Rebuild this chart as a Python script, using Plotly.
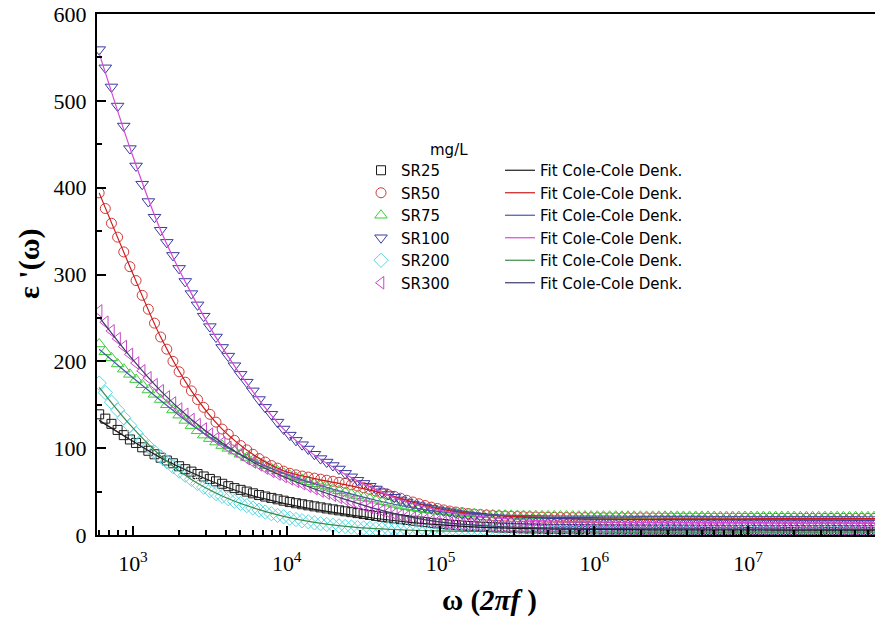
import plotly.graph_objects as go

# log10(omega) sampling grid of the measurement
log_omega = [
    2.78, 2.82, 2.86, 2.90, 2.94, 2.98, 3.02, 3.06, 3.10, 3.14,
    3.18, 3.22, 3.26, 3.30, 3.34, 3.38, 3.42, 3.46, 3.50, 3.54,
    3.58, 3.62, 3.66, 3.70, 3.74, 3.78, 3.82, 3.86, 3.90, 3.94,
    3.98, 4.02, 4.06, 4.10, 4.14, 4.18, 4.22, 4.26, 4.30, 4.34,
    4.38, 4.42, 4.46, 4.50, 4.54, 4.58, 4.62, 4.66, 4.70, 4.74,
    4.78, 4.82, 4.86, 4.90, 4.94, 4.98, 5.02, 5.06, 5.10, 5.14,
    5.18, 5.22, 5.26, 5.30, 5.34, 5.38, 5.42, 5.46, 5.50, 5.54,
    5.58, 5.62, 5.66, 5.70, 5.74, 5.78, 5.82, 5.86, 5.90, 5.94,
    5.98, 6.02, 6.06, 6.10, 6.14, 6.18, 6.22, 6.26, 6.30, 6.34,
    6.38, 6.42, 6.46, 6.50, 6.54, 6.58, 6.62, 6.66, 6.70, 6.74,
    6.78, 6.82, 6.86, 6.90, 6.94, 6.98, 7.02, 7.06, 7.10, 7.14,
    7.18, 7.22, 7.26, 7.30, 7.34, 7.38, 7.42, 7.46, 7.50, 7.54,
    7.58, 7.62, 7.66, 7.70, 7.74, 7.78, 7.82]

sr25 = [
    139, 134, 128, 121, 115, 110, 106, 101, 97, 93,
    89, 85.8, 82.6, 79.2, 75.8, 73, 70.2, 67.4, 64.6, 61.8,
    59, 56.2, 54, 52, 50, 48, 46, 44.3, 42.7, 41.1,
    39.5, 37.9, 36.6, 35.4, 34.2, 33, 31.8, 30.6, 29.5, 28.4,
    27.3, 26.3, 25.2, 24.1, 23.0, 22, 21.0, 20.1, 19.1, 18.2,
    17.3, 16.4, 15.6, 14.8, 14.0, 13.3, 12.7, 12.0, 11.4, 10.9,
    10.4, 10.0, 9.6, 9.2, 8.9, 8.6, 8.4, 8.1, 7.9, 7.7,
    7.5, 7.3, 7.2, 7.0, 6.9, 6.9, 6.8, 6.7, 6.6, 6.6,
    6.5, 6.5, 6.4, 6.4, 6.3, 6.3, 6.3, 6.2, 6.2, 6.2,
    6.1, 6.1, 6.1, 6.1, 6.0, 6.0, 6.0, 6.0, 5.9, 5.9,
    5.9, 5.9, 5.8, 5.8, 5.8, 5.8, 5.8, 5.8, 5.7, 5.7,
    5.7, 5.7, 5.7, 5.7, 5.6, 5.6, 5.6, 5.6, 5.6, 5.6,
    5.6, 5.5, 5.5, 5.5, 5.5, 5.5, 5.5]

sr50 = [
    394, 376, 359, 343, 326, 309, 293, 276, 260, 244,
    228, 214, 200, 188, 176, 166, 156, 147, 139, 130,
    122, 116, 109, 103, 98, 93, 88, 84, 80, 77,
    73.5, 71.1, 69.3, 67.9, 66.7, 65.5, 64.3, 63.1, 61.9, 60.7,
    59.5, 57.9, 56.3, 54.5, 52.5, 50.5, 48.5, 46.5, 44.5, 42.4,
    40, 38, 36, 34, 32.1, 30.5, 28.9, 27.6, 26.5, 25.6,
    24.8, 24.1, 23.5, 23.0, 22.5, 22.1, 21.8, 21.5, 21.3, 21.1,
    20.9, 20.7, 20.6, 20.4, 20.3, 20.2, 20.1, 20.0, 20.0, 20.0,
    19.9, 19.9, 19.9, 19.8, 19.8, 19.8, 19.7, 19.7, 19.7, 19.7,
    19.6, 19.6, 19.6, 19.6, 19.5, 19.5, 19.5, 19.5, 19.5, 19.4,
    19.4, 19.4, 19.4, 19.4, 19.3, 19.3, 19.3, 19.3, 19.3, 19.3,
    19.2, 19.2, 19.2, 19.2, 19.2, 19.2, 19.1, 19.1, 19.1, 19.1,
    19.1, 19.1, 19.0, 19.0, 19.0, 19.0, 19.0]

sr75 = [
    220, 211, 204, 197, 191, 185, 179, 173, 167, 162,
    156, 150, 144, 138, 132, 126, 120, 115, 111, 107,
    103, 99.8, 96.6, 93, 89.2, 86, 82.8, 79.6, 76.6, 73.8,
    71, 68.6, 66.2, 63.8, 61.4, 59, 57, 55, 53, 51,
    49, 47, 45, 43.2, 41.6, 40, 38.4, 36.8, 35.3, 33.9,
    32.5, 31.3, 30.2, 29.1, 28.2, 27.3, 26.6, 25.9, 25.4, 24.9,
    24.4, 24.1, 23.8, 23.5, 23.2, 23.0, 22.8, 22.7, 22.5, 22.4,
    22.3, 22.2, 22.1, 22.1, 22.0, 21.9, 21.9, 21.9, 21.8, 21.8,
    21.8, 21.7, 21.7, 21.7, 21.7, 21.6, 21.6, 21.6, 21.6, 21.5,
    21.5, 21.5, 21.5, 21.5, 21.4, 21.4, 21.4, 21.4, 21.4, 21.4,
    21.3, 21.3, 21.3, 21.3, 21.3, 21.3, 21.3, 21.2, 21.2, 21.2,
    21.2, 21.2, 21.2, 21.2, 21.1, 21.1, 21.1, 21.1, 21.1, 21.1,
    21.1, 21.0, 21.0, 21.0, 21.0, 21.0, 21.0]

sr100 = [
    559, 538, 516, 494, 471, 445, 425, 404, 384, 366,
    351, 337, 322, 307, 292, 278, 265, 252, 240, 228,
    216, 206, 195, 185, 176, 166, 156, 147, 139, 130,
    122, 115, 109, 104, 99, 93, 88, 84, 80, 76,
    71, 67, 63, 59.4, 56.2, 53, 49.8, 46.6, 43.4, 40.4,
    38, 35.6, 33.8, 32.2, 30.6, 29, 27.8, 26.6, 25.4, 24.3,
    23.3, 22.4, 21.6, 20.8, 20.1, 19.5, 18.9, 18.4, 18.0, 17.6,
    17.2, 16.9, 16.6, 16.3, 16.0, 15.8, 15.6, 15.5, 15.3, 15.2,
    15.1, 15.0, 14.9, 14.9, 14.8, 14.7, 14.7, 14.7, 14.6, 14.6,
    14.6, 14.5, 14.5, 14.5, 14.5, 14.4, 14.4, 14.4, 14.4, 14.3,
    14.3, 14.3, 14.3, 14.3, 14.2, 14.2, 14.2, 14.2, 14.2, 14.1,
    14.1, 14.1, 14.1, 14.1, 14.1, 14.0, 14.0, 14.0, 14.0, 14.0,
    14.0, 13.9, 13.9, 13.9, 13.9, 13.9, 13.9]

sr200 = [
    175, 164, 153, 144, 135, 126, 117, 109, 102, 95.6,
    90, 84.4, 78.8, 73.6, 68.8, 64, 59.2, 55, 51.2, 47.7,
    44.5, 41.7, 38.9, 36.3, 33.8, 31, 28.6, 26.5, 24.5, 22.6,
    21, 19.4, 17.8, 16.4, 15.2, 14, 13.0, 12.1, 11.3, 10.5,
    9.8, 9.2, 8.6, 8.1, 7.6, 7.2, 6.8, 6.5, 6.1, 5.8,
    5.6, 5.4, 5.2, 5.0, 4.8, 4.7, 4.5, 4.4, 4.3, 4.2,
    4.2, 4.1, 4.0, 4.0, 3.9, 3.9, 3.8, 3.8, 3.8, 3.7,
    3.7, 3.7, 3.7, 3.6, 3.6, 3.6, 3.6, 3.6, 3.5, 3.5,
    3.5, 3.5, 3.5, 3.5, 3.5, 3.5, 3.4, 3.4, 3.4, 3.4,
    3.4, 3.4, 3.4, 3.4, 3.4, 3.4, 3.4, 3.4, 3.4, 3.4,
    3.4, 3.3, 3.3, 3.3, 3.3, 3.3, 3.3, 3.3, 3.3, 3.3,
    3.3, 3.3, 3.3, 3.3, 3.3, 3.3, 3.2, 3.2, 3.2, 3.2,
    3.2, 3.2, 3.2, 3.2, 3.2, 3.2, 3.2]

sr300 = [
    258, 245, 235, 226, 217, 208, 198, 189, 181, 173,
    166, 159, 152, 145, 139, 133, 127, 122, 116, 111,
    106, 101, 97, 92.6, 88, 84, 80.8, 77, 73.4, 70.3,
    67.5, 64.7, 61.9, 59.1, 56.3, 53.5, 50.7, 48.2, 45.8, 43.4,
    41, 38.6, 36.2, 34, 32, 30, 28, 26, 24.2, 22.6,
    21, 19.6, 18.4, 17.2, 16.2, 15.2, 14.3, 13.6, 12.9, 12.3,
    11.7, 11.2, 10.8, 10.4, 10.0, 9.7, 9.5, 9.2, 9.0, 8.8,
    8.6, 8.4, 8.3, 8.1, 8.0, 7.9, 7.8, 7.7, 7.6, 7.5,
    7.5, 7.4, 7.4, 7.3, 7.3, 7.3, 7.2, 7.2, 7.2, 7.1,
    7.1, 7.1, 7.1, 7.0, 7.0, 7.0, 7.0, 6.9, 6.9, 6.9,
    6.9, 6.9, 6.8, 6.8, 6.8, 6.8, 6.8, 6.7, 6.7, 6.7,
    6.7, 6.7, 6.7, 6.6, 6.6, 6.6, 6.6, 6.6, 6.6, 6.5,
    6.5, 6.5, 6.5, 6.5, 6.5, 6.5, 6.5]

# Cole-Cole (Denk.) fit curves, sampled every 0.2 decade
log_omega_fit = [2.78, 2.98, 3.18, 3.38, 3.58, 3.78, 3.98, 4.18, 4.38, 4.58,
                 4.78, 4.98, 5.18, 5.38, 5.58, 5.78, 5.98, 6.18, 6.38, 6.58,
                 6.78, 6.98, 7.18, 7.38, 7.58, 7.78, 7.84]
fit25 = [132, 110, 89, 72, 57, 45, 36.5, 29.5, 24, 19, 15, 12, 9.7, 8.2, 7.3,
         6.8, 6.5, 6.2, 6.0, 5.9, 5.8, 5.8, 5.7, 5.6, 5.6, 5.5, 5.5]
fit50 = [394, 309, 228, 166, 122, 93, 74, 65, 58, 50, 40, 30.5, 25, 22.2, 21,
         20.3, 19.9, 19.7, 19.6, 19.5, 19.4, 19.3, 19.2, 19.1, 19.1, 19.0, 19.0]
fit75 = [214, 184, 155, 127, 104, 86, 71, 59, 49, 40, 32.5, 27.3, 24.4, 23, 22.2,
         21.9, 21.7, 21.6, 21.5, 21.4, 21.3, 21.3, 21.2, 21.1, 21.1, 21.0, 21.0]
fit100 = [555, 446, 351, 278, 216, 165, 122, 92, 70, 52, 38, 29, 23, 19.5, 17.2,
          15.8, 15.1, 14.7, 14.5, 14.4, 14.3, 14.2, 14.1, 14.0, 14.0, 13.9, 13.9]
fit200 = [170, 127, 91, 64, 45, 31.5, 21.5, 14.5, 10, 7.3, 5.7, 4.8, 4.2, 3.9, 3.7,
          3.6, 3.5, 3.4, 3.4, 3.4, 3.3, 3.3, 3.3, 3.2, 3.2, 3.2, 3.2]
fit300 = [251, 206, 166, 133, 106, 84, 67, 53, 41, 30, 21.5, 15.5, 12, 9.8, 8.6,
          7.9, 7.5, 7.3, 7.1, 7.0, 6.9, 6.8, 6.7, 6.6, 6.5, 6.5, 6.5]

series_names = ["SR25", "SR50", "SR75", "SR100", "SR200", "SR300"]
series_vals = [sr25, sr50, sr75, sr100, sr200, sr300]
fit_vals = [fit25, fit50, fit75, fit100, fit200, fit300]
fit_name = "Fit Cole-Cole Denk."
legend_title = "mg/L"

x_tick_vals = [1e3, 1e4, 1e5, 1e6, 1e7]
x_tick_text = ["10<sup>3</sup>", "10<sup>4</sup>", "10<sup>5</sup>",
               "10<sup>6</sup>", "10<sup>7</sup>"]
y_tick_vals = [0, 100, 200, 300, 400, 500, 600]

marker_symbols = ["square-open", "circle-open", "triangle-up-open",
                  "triangle-down-open", "diamond-open", "triangle-left-open"]
marker_sizes = [9, 10, 11, 11, 11, 11]
marker_colors = ["#1a1a1a", "#d03a3a", "#3ccc3c", "#3a3aa0", "#5ad8e0", "#c848c8"]
fit_colors = ["#1a1a1a", "#cc1a1a", "#4a58a8", "#d848d8", "#3a8a4a", "#3a3a66"]

omega = [10 ** v for v in log_omega]
omega_fit = [10 ** v for v in log_omega_fit]

fig = go.Figure()
for name, vals, sym, sz, col in zip(series_names, series_vals, marker_symbols,
                                    marker_sizes, marker_colors):
    fig.add_trace(go.Scatter(
        x=omega, y=vals, mode="markers", name=name,
        marker=dict(symbol=sym, size=sz, color=col, line=dict(width=1, color=col)),
        legend="legend"))
for vals, col in zip(fit_vals, fit_colors):
    fig.add_trace(go.Scatter(
        x=omega_fit, y=vals, mode="lines", name=fit_name,
        line=dict(color=col, width=1.2, shape="spline", smoothing=0.8),
        legend="legend2"))

W, H = 875, 623
L_M, R_M, T_M, B_M = 97, 0, 14, 88
pw, ph = W - L_M - R_M, H - T_M - B_M

def px_x(px):
    return (px - L_M) / pw

def px_y(py):
    return (H - B_M - py) / ph

serif = "Liberation Serif"
tickfont = dict(family=serif, size=22, color="black")
legfont = dict(family="DejaVu Sans", size=15, color="black")

fig.update_layout(
    width=W, height=H,
    margin=dict(l=L_M, r=R_M, t=T_M, b=B_M),
    paper_bgcolor="white", plot_bgcolor="white",
    font=dict(family=serif, color="black"),
    showlegend=True,
    legend=dict(x=px_x(361), y=px_y(154), xanchor="left", yanchor="top",
                bgcolor="rgba(0,0,0,0)", font=legfont, tracegroupgap=0),
    legend2=dict(x=px_x(500), y=px_y(154), xanchor="left", yanchor="top",
                 bgcolor="rgba(0,0,0,0)", font=legfont, tracegroupgap=0),
    xaxis=dict(type="log", range=[2.766, 7.826],
               showline=True, linecolor="black", linewidth=2, mirror=True,
               ticks="inside", ticklen=9, tickwidth=2, tickcolor="black",
               tickvals=x_tick_vals, ticktext=x_tick_text, tickfont=tickfont,
               ticklabelstandoff=8,
               minor=dict(ticks="inside", ticklen=5, tickwidth=1.5, tickcolor="black", dtick="D1"),
               showgrid=False, zeroline=False),
    yaxis=dict(range=[0, 600],
               showline=True, linecolor="black", linewidth=2, mirror=False,
               ticks="inside", ticklen=9, tickwidth=2, tickcolor="black",
               tickvals=y_tick_vals, tickfont=tickfont, ticklabelstandoff=4,
               minor=dict(ticks="inside", ticklen=5, tickwidth=1.5, tickcolor="black", dtick=50),
               showgrid=False, zeroline=False),
    annotations=[
        dict(text="<b>ε '(ω)</b>", textangle=-90, xref="paper", yref="paper",
             x=px_x(29), y=px_y(264), xanchor="center", yanchor="middle", showarrow=False,
             font=dict(family=serif, size=30, color="black")),
        dict(text="<b>ω (<i>2πf</i> )</b>", xref="paper", yref="paper",
             x=px_x(489), y=px_y(600), xanchor="center", yanchor="middle", showarrow=False,
             font=dict(family=serif, size=29, color="black")),
        dict(text=legend_title, xref="paper", yref="paper", x=px_x(449), y=px_y(150),
             xanchor="center", yanchor="middle", showarrow=False, font=legfont),
    ],
)

fig.write_html("out.html")
